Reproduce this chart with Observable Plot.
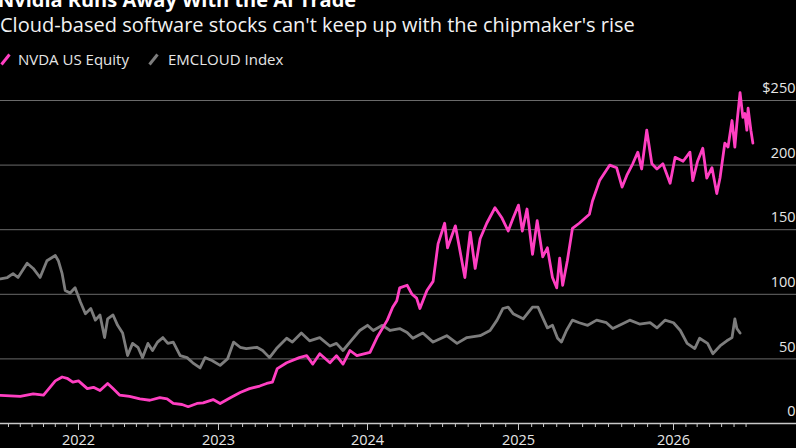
<!DOCTYPE html>
<html><head><meta charset="utf-8">
<script src="https://cdn.jsdelivr.net/npm/d3@7"></script>
<script src="https://cdn.jsdelivr.net/npm/@observablehq/plot@0.6"></script>
<style>
html,body{margin:0;padding:0;background:#000;overflow:hidden;}
#head{position:relative;width:796px;height:75px;font-family:"Open Sans",sans-serif;color:#fff;overflow:hidden;}
#head .t{position:absolute;white-space:nowrap;line-height:1;}
#chart{width:796px;height:373px;}
</style></head><body>
<div id="head">
  <div class="t" id="title" style="left:-2px;top:-10px;font-size:20px;font-weight:700;">Nvidia Runs Away With the AI Trade</div>
  <div class="t" id="sub" style="left:0;top:15px;font-size:20px;color:#f2f2f2;">Cloud-based software stocks can't keep up with the chipmaker's rise</div>
</div>
<div id="chart"></div>
<script>
const seriesNames = ["NVDA US Equity", "EMCLOUD Index"];
const yTicks = [0, 50, 100, 150, 200, 250];
const yTickLabels = ["0", "50", "100", "150", "200", "$250"];
const yearLabels = ["2022", "2023", "2024", "2025", "2026"];

const nvdaDates = ["2021-06-10","2021-08-01","2021-09-04","2021-10-01","2021-10-18","2021-11-01","2021-11-19","2021-12-02","2021-12-17","2022-01-01",
"2022-01-24","2022-02-09","2022-02-26","2022-03-18","2022-04-01","2022-04-18","2022-05-14","2022-06-10","2022-07-06","2022-08-01",
"2022-08-20","2022-09-05","2022-09-28","2022-10-14","2022-11-06","2022-11-22","2022-12-18","2023-01-05","2023-01-30","2023-02-23",
"2023-03-18","2023-04-12","2023-04-29","2023-05-13","2023-05-25","2023-06-17","2023-07-18","2023-08-05","2023-08-20","2023-09-06",
"2023-10-01","2023-10-17","2023-11-02","2023-11-19","2023-12-06","2024-01-07","2024-01-24","2024-02-18","2024-03-02","2024-03-12",
"2024-03-19","2024-04-06","2024-04-18","2024-04-29","2024-05-07","2024-05-24","2024-06-08","2024-06-20","2024-07-06","2024-07-13",
"2024-08-01","2024-08-12","2024-08-24","2024-09-06","2024-09-18","2024-09-30","2024-10-16","2024-11-05","2024-11-22","2024-12-07",
"2024-12-19","2025-01-01","2025-01-10","2025-01-21","2025-02-03","2025-02-14","2025-02-27","2025-03-10","2025-03-22","2025-04-01",
"2025-04-08","2025-04-15","2025-04-26","2025-05-08","2025-05-24","2025-06-17","2025-06-24","2025-07-11","2025-08-04","2025-08-20",
"2025-09-02","2025-09-13","2025-09-27","2025-10-09","2025-10-18","2025-10-30","2025-11-11","2025-11-23","2025-12-07","2025-12-24",
"2026-01-05","2026-01-25","2026-02-11","2026-02-18","2026-03-02","2026-03-15","2026-03-25","2026-04-07","2026-04-19","2026-04-27",
"2026-05-09","2026-05-17","2026-05-27","2026-06-03","2026-06-08","2026-06-16","2026-06-23","2026-06-28","2026-07-03","2026-07-06",
"2026-07-13","2026-07-18"];
const nvdaValues = [21.7,21,23,22,28,33,36,35,32,33,
27,28,25.5,31,27,22,21,19,18,20,
19,15.5,14.7,13,15.5,16,18.5,15.5,20,24,
27,29,31,32,42.5,47,51,52.5,46,54,
47,52.5,46,56.5,52.5,55,66.5,80,90,95,
105,107,100,97,89,103,110,139,155,136,
153,134,113,148,120,143,155,167,159,149,
159,169,149,166,131,157,129,136,113,105,
128,107,126,151,155,162,172,188,200,198,
183,192,201,210,197,227,201,197,201,186,
206,203,210,188,203,213,190,198,178,190,
217,214,234.5,214,232,256,237,240,227,244,
227,217];

const cloudDates = ["2021-06-10","2021-06-28","2021-07-13","2021-07-26","2021-08-19","2021-09-04","2021-09-22","2021-10-10","2021-11-01","2021-11-09",
"2021-11-19","2021-11-27","2021-12-10","2021-12-23","2022-01-06","2022-01-19","2022-02-02","2022-02-14","2022-02-26","2022-03-10",
"2022-03-18","2022-04-01","2022-04-13","2022-04-26","2022-05-09","2022-05-22","2022-06-05","2022-06-17","2022-07-01","2022-07-13",
"2022-07-26","2022-08-09","2022-08-22","2022-09-05","2022-09-23","2022-10-11","2022-10-26","2022-11-14","2022-11-27","2022-12-15",
"2023-01-05","2023-01-23","2023-02-07","2023-02-23","2023-03-10","2023-04-05","2023-04-19","2023-05-06","2023-05-23","2023-06-17",
"2023-07-01","2023-07-23","2023-08-12","2023-09-06","2023-10-01","2023-10-17","2023-11-02","2023-11-19","2023-12-13","2024-01-01",
"2024-01-15","2024-02-06","2024-02-25","2024-03-19","2024-04-06","2024-04-20","2024-05-14","2024-06-08","2024-07-11","2024-08-05",
"2024-08-29","2024-09-30","2024-10-24","2024-11-10","2024-11-24","2024-12-07","2024-12-19","2025-01-12","2025-02-03","2025-02-16",
"2025-02-27","2025-03-10","2025-03-22","2025-04-03","2025-04-12","2025-04-24","2025-05-08","2025-05-24","2025-06-13","2025-07-04",
"2025-07-27","2025-08-11","2025-09-02","2025-09-20","2025-10-13","2025-11-07","2025-11-23","2025-12-12","2026-01-01","2026-01-18",
"2026-02-04","2026-02-23","2026-03-07","2026-03-27","2026-04-09","2026-04-27","2026-05-14","2026-05-27","2026-06-03","2026-06-08",
"2026-06-16"];
const cloudValues = [112,113,116,113,124,120,113,126,130,126,
116,103,101,105,94,85,89,80,84,66.5,
81,84,76,70,52.6,62,59,51,62,56.5,
63,66.5,62,63,52.6,51,47,43,51,48.8,
45,50,63,59,58,59,56.5,51,58,66,
63,70,64,66.5,60,62,56.5,63,72,76,
72,76,72,73.5,70.5,66,70,63,68,62,
66.5,68,72,80,89,90,85,81,90,90,
82,74,76,66,63,72,80,78,76,80,
78,73.5,77,80,77,78,74,80,78,72,
62,58,66,62,54,60,64,66.5,81,73.5,
70];

const colors = ["#ff3fc2", "#7d7d7d"];
const parse = s => new Date(s + "T00:00:00Z");
const nvda = nvdaDates.map((d, i) => ({date: parse(d), value: nvdaValues[i]}));
const cloud = cloudDates.map((d, i) => ({date: parse(d), value: cloudValues[i]}));

// legend
const head = document.getElementById("head");
const legendX = [[0, 18], [148, 168]];
seriesNames.forEach((name, i) => {
  const sw = document.createElementNS("http://www.w3.org/2000/svg", "svg");
  sw.setAttribute("width", 12); sw.setAttribute("height", 14);
  sw.style.position = "absolute"; sw.style.left = (legendX[i][0]) + "px"; sw.style.top = "52px";
  const ln = document.createElementNS("http://www.w3.org/2000/svg", "line");
  ln.setAttribute("x1", 1.5); ln.setAttribute("y1", 12.5); ln.setAttribute("x2", 9.5); ln.setAttribute("y2", 2.5);
  ln.setAttribute("stroke", colors[i]); ln.setAttribute("stroke-width", 3);
  sw.appendChild(ln); head.appendChild(sw);
  const t = document.createElement("div");
  t.className = "t"; t.textContent = name;
  t.style.left = legendX[i][1] + "px"; t.style.top = "51.5px"; t.style.fontSize = "15px"; t.style.color = "#e6e6e6";
  head.appendChild(t);
});

const yearTicks = yearLabels.map(y => parse(y + "-01-01"));
const monthTicks = d3.utcMonths(parse("2021-07-01"), parse("2026-07-02"));

const chart = Plot.plot({
  width: 796,
  height: 373,
  marginLeft: 0, marginRight: 0, marginTop: 0, marginBottom: 25,
  style: {background: "#000", color: "#e6e6e6", fontFamily: "Open Sans, sans-serif", fontSize: "14.5px", overflow: "visible"},
  x: {type: "utc",
      domain: [parse("2021-06-10"), parse("2022-01-01"), parse("2023-01-01"), parse("2024-01-01"), parse("2025-01-01"), parse("2026-01-01"), parse("2026-08-01")],
      range: [0, 78, 218, 367, 518, 673, 758]},
  y: {domain: [0, 250], range: [348, 25], axis: null},
  marks: [
    Plot.ruleY(yTicks.filter(v => v > 0), {y: d => d, stroke: "#6a6a6a", strokeWidth: 1}),
    Plot.line(cloud, {x: "date", y: "value", stroke: colors[1], strokeWidth: 2.8, strokeLinejoin: "round"}),
    Plot.line(nvda, {x: "date", y: "value", stroke: colors[0], strokeWidth: 2.8, strokeLinejoin: "round"}),
    Plot.ruleY([0], {stroke: "#c8c8c8", strokeWidth: 1.5}),
    Plot.text(yTicks, {y: d => d, text: (d, i) => yTickLabels[i], frameAnchor: "right", textAnchor: "end", dx: -1, dy: -12, fill: "#e6e6e6", fontSize: 14.5}),
    Plot.axisX({ticks: monthTicks, tickSize: 4, tickFormat: () => "", stroke: "#c8c8c8"}),
    Plot.axisX({ticks: yearTicks, tickSize: 7, tickPadding: 4, stroke: "#c8c8c8", fill: "#e6e6e6", fontSize: 14.5,
                tickFormat: d => yearLabels.find(l => +l === d.getUTCFullYear())})
  ]
});
document.getElementById("chart").appendChild(chart);
</script>
</body></html>
